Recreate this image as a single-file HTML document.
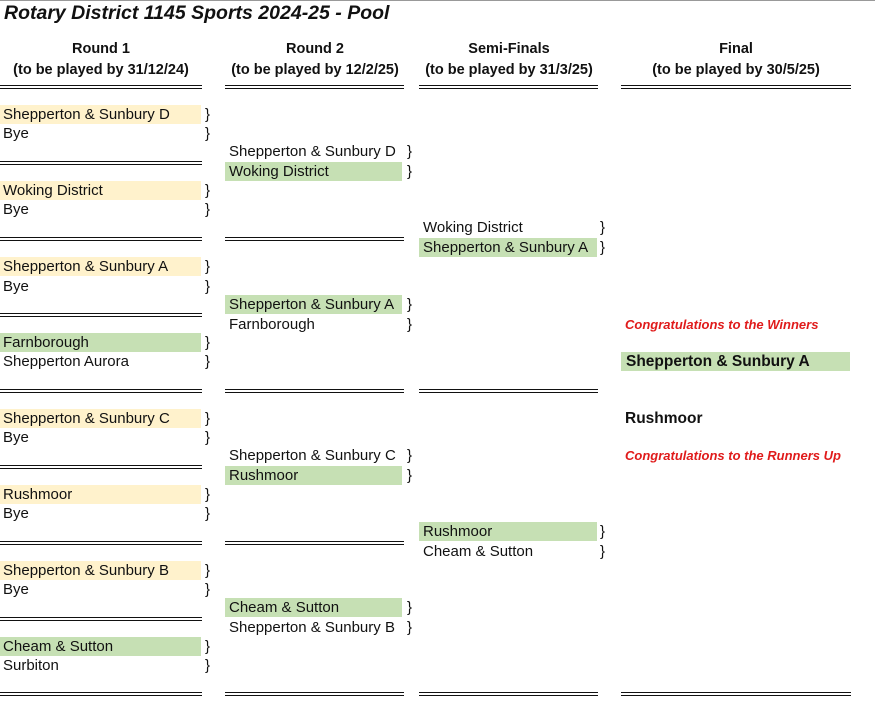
<!DOCTYPE html>
<html><head><meta charset="utf-8"><style>
body{margin:0;width:875px;height:707px;background:#fff;position:relative;overflow:hidden;font-family:"Liberation Sans",Arial,sans-serif;color:#111}
.t{position:absolute;height:19px;line-height:19px;font-size:15px;white-space:nowrap;box-sizing:border-box}
.b{position:absolute;height:19px;line-height:19px;font-size:15px}
.y{background:#fff2cc}.g{background:#c6e0b4}
.d{position:absolute;height:2px;border-top:1.5px solid #111;border-bottom:1.5px solid #111;box-sizing:content-box}
.h{position:absolute;font-weight:bold;font-size:14.5px;text-align:center;line-height:21px}
.c1{left:0;width:201px;padding-left:3px}
.c2{left:225px;width:177px;padding-left:4px}
.c3{left:419px;width:178px;padding-left:4px}
.r{position:absolute;left:625px;color:#e01b1b;font-style:italic;font-weight:bold;font-size:13px}
</style></head><body>
<div style="position:absolute;left:0;top:0;width:875px;height:1px;background:#999"></div>
<div style="position:absolute;left:4px;top:2px;font-size:19.5px;font-weight:bold;font-style:italic">Rotary District 1145 Sports 2024-25 - Pool</div>
<div class="h" style="left:0;width:202px;top:39px">Round 1<br>(to be played by 31/12/24)</div>
<div class="h" style="left:225px;width:180px;top:39px">Round 2<br>(to be played by 12/2/25)</div>
<div class="h" style="left:419px;width:180px;top:39px">Semi-Finals<br>(to be played by 31/3/25)</div>
<div class="h" style="left:621px;width:230px;top:39px">Final<br>(to be played by 30/5/25)</div>

<div class="d" style="left:0;width:202px;top:85px"></div>
<div class="d" style="left:225px;width:179px;top:85px"></div>
<div class="d" style="left:419px;width:179px;top:85px"></div>
<div class="d" style="left:621px;width:230px;top:85px"></div>

<div class="d" style="left:0;width:202px;top:161px"></div>
<div class="d" style="left:0;width:202px;top:237px"></div>
<div class="d" style="left:0;width:202px;top:313px"></div>
<div class="d" style="left:0;width:202px;top:389px"></div>
<div class="d" style="left:0;width:202px;top:465px"></div>
<div class="d" style="left:0;width:202px;top:541px"></div>
<div class="d" style="left:0;width:202px;top:617px"></div>
<div class="d" style="left:0;width:202px;top:692px"></div>
<div class="d" style="left:225px;width:179px;top:237px"></div>
<div class="d" style="left:225px;width:179px;top:389px"></div>
<div class="d" style="left:225px;width:179px;top:541px"></div>
<div class="d" style="left:225px;width:179px;top:692px"></div>
<div class="d" style="left:419px;width:179px;top:389px"></div>
<div class="d" style="left:419px;width:179px;top:692px"></div>
<div class="d" style="left:621px;width:230px;top:692px"></div>

<div class="t c1 y" style="top:105px">Shepperton &amp; Sunbury D</div><div class="b" style="left:205px;top:105px">}</div>
<div class="t c1" style="top:124px">Bye</div><div class="b" style="left:205px;top:124px">}</div>
<div class="t c1 y" style="top:181px">Woking District</div><div class="b" style="left:205px;top:181px">}</div>
<div class="t c1" style="top:200px">Bye</div><div class="b" style="left:205px;top:200px">}</div>
<div class="t c1 y" style="top:257px">Shepperton &amp; Sunbury A</div><div class="b" style="left:205px;top:257px">}</div>
<div class="t c1" style="top:277px">Bye</div><div class="b" style="left:205px;top:277px">}</div>
<div class="t c1 g" style="top:333px">Farnborough</div><div class="b" style="left:205px;top:333px">}</div>
<div class="t c1" style="top:352px">Shepperton Aurora</div><div class="b" style="left:205px;top:352px">}</div>
<div class="t c1 y" style="top:409px">Shepperton &amp; Sunbury C</div><div class="b" style="left:205px;top:409px">}</div>
<div class="t c1" style="top:428px">Bye</div><div class="b" style="left:205px;top:428px">}</div>
<div class="t c1 y" style="top:485px">Rushmoor</div><div class="b" style="left:205px;top:485px">}</div>
<div class="t c1" style="top:504px">Bye</div><div class="b" style="left:205px;top:504px">}</div>
<div class="t c1 y" style="top:561px">Shepperton &amp; Sunbury B</div><div class="b" style="left:205px;top:561px">}</div>
<div class="t c1" style="top:580px">Bye</div><div class="b" style="left:205px;top:580px">}</div>
<div class="t c1 g" style="top:637px">Cheam &amp; Sutton</div><div class="b" style="left:205px;top:637px">}</div>
<div class="t c1" style="top:656px">Surbiton</div><div class="b" style="left:205px;top:656px">}</div>

<div class="t c2" style="top:142px">Shepperton &amp; Sunbury D</div><div class="b" style="left:407px;top:142px">}</div>
<div class="t c2 g" style="top:162px">Woking District</div><div class="b" style="left:407px;top:162px">}</div>
<div class="t c2 g" style="top:295px">Shepperton &amp; Sunbury A</div><div class="b" style="left:407px;top:295px">}</div>
<div class="t c2" style="top:315px">Farnborough</div><div class="b" style="left:407px;top:315px">}</div>
<div class="t c2" style="top:446px">Shepperton &amp; Sunbury C</div><div class="b" style="left:407px;top:446px">}</div>
<div class="t c2 g" style="top:466px">Rushmoor</div><div class="b" style="left:407px;top:466px">}</div>
<div class="t c2 g" style="top:598px">Cheam &amp; Sutton</div><div class="b" style="left:407px;top:598px">}</div>
<div class="t c2" style="top:618px">Shepperton &amp; Sunbury B</div><div class="b" style="left:407px;top:618px">}</div>

<div class="t c3" style="top:218px">Woking District</div><div class="b" style="left:600px;top:218px">}</div>
<div class="t c3 g" style="top:238px">Shepperton &amp; Sunbury A</div><div class="b" style="left:600px;top:238px">}</div>
<div class="t c3 g" style="top:522px">Rushmoor</div><div class="b" style="left:600px;top:522px">}</div>
<div class="t c3" style="top:542px">Cheam &amp; Sutton</div><div class="b" style="left:600px;top:542px">}</div>

<div class="r" style="top:317px">Congratulations to the Winners</div>
<div class="t g" style="left:621px;width:229px;top:352px;padding-left:5px;font-weight:bold;font-size:15.5px">Shepperton &amp; Sunbury A</div>
<div class="t" style="left:625px;top:409px;font-weight:bold;font-size:15.5px">Rushmoor</div>
<div class="r" style="top:448px">Congratulations to the Runners Up</div>
</body></html>
